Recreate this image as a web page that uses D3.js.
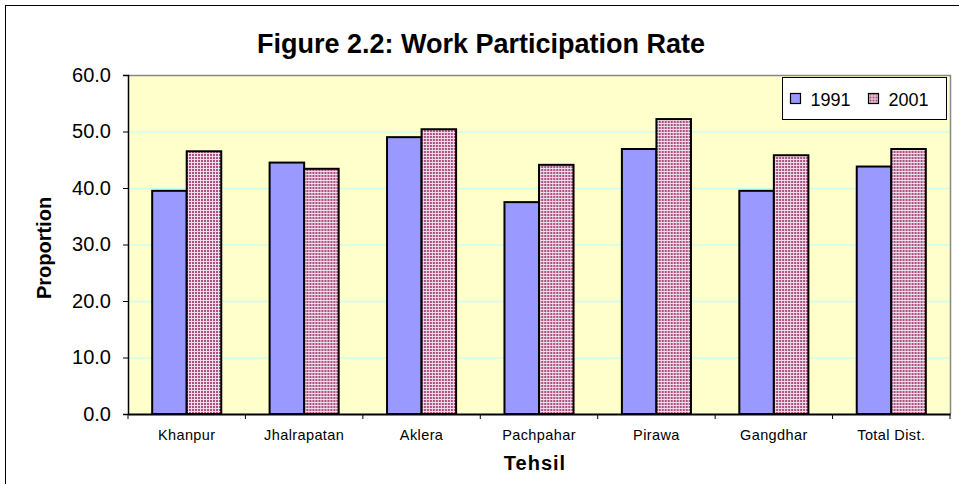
<!DOCTYPE html>
<html>
<head>
<meta charset="utf-8">
<script src="https://cdn.jsdelivr.net/npm/d3@7"></script>
<style>
  body { margin: 0; background: #fff; }
  svg { display: block; font-family: Arial, "Liberation Sans", sans-serif; }
</style>
</head>
<body>
<svg width="959" height="484"></svg>
<script>
const tehsils = ["Khanpur", "Jhalrapatan", "Aklera", "Pachpahar", "Pirawa", "Gangdhar", "Total Dist."];
const years = ["1991", "2001"];
const wpr1991 = [39.5, 44.5, 49.0, 37.5, 46.9, 39.5, 43.8];
const wpr2001 = [46.5, 43.4, 50.4, 44.1, 52.2, 45.8, 46.9];
const yTicks = [0, 10, 20, 30, 40, 50, 60];

const margin = { top: 75, right: 9, bottom: 70, left: 128 };
const width = 959, height = 484;
const svg = d3.select("svg");

// pattern for the 2001 bars
const defs = svg.append("defs");
const pat = defs.append("pattern")
  .attr("id", "grid2001")
  .attr("patternUnits", "userSpaceOnUse")
  .attr("width", 3).attr("height", 3);
pat.append("rect").attr("width", 3).attr("height", 3).attr("fill", "#a8507e");
pat.append("rect").attr("width", 3).attr("height", 1).attr("fill", "#f2dcea");
pat.append("rect").attr("width", 1).attr("height", 3).attr("fill", "#f2dcea");

// outer frame
svg.append("rect")
  .attr("x", 5.5).attr("y", 5.5)
  .attr("width", width + 10).attr("height", height + 10)
  .attr("fill", "none").attr("stroke", "#000");

// scales
const x0 = d3.scaleBand()
  .domain(tehsils)
  .range([margin.left, width - margin.right])
  .padding(0);
const x1 = d3.scaleBand()
  .domain(years)
  .range([0, x0.bandwidth()])
  .paddingInner(0)
  .paddingOuter(0.7);
const y = d3.scaleLinear()
  .domain([0, 60])
  .range([height - margin.bottom, margin.top]);

const plotL = margin.left, plotR = width - margin.right;
const plotT = margin.top, plotB = height - margin.bottom;

// plot background
svg.append("rect")
  .attr("x", plotL).attr("y", plotT)
  .attr("width", plotR - plotL).attr("height", plotB - plotT)
  .attr("fill", "#ffffcc");

// gridlines
svg.append("g")
  .selectAll("line")
  .data(yTicks.filter(d => d > 0 && d < 60))
  .join("line")
  .attr("x1", plotL).attr("x2", plotR)
  .attr("y1", d => y(d) + 0.5).attr("y2", d => y(d) + 0.5)
  .attr("stroke", "#ccffee").attr("stroke-width", 1.5);

// plot border top/right
svg.append("path")
  .attr("d", `M${plotL},${plotT + 0.5}H${plotR + 0.5}V${plotB}`)
  .attr("fill", "none").attr("stroke", "#888").attr("stroke-width", 1.5);

// bars
const rows = tehsils.map((t, i) => ({ t, vals: [{ k: "1991", v: wpr1991[i] }, { k: "2001", v: wpr2001[i] }] }));
svg.append("g")
  .selectAll("g")
  .data(rows)
  .join("g")
  .attr("transform", d => `translate(${x0(d.t)},0)`)
  .selectAll("rect")
  .data(d => d.vals)
  .join("rect")
  .attr("x", d => x1(d.k))
  .attr("y", d => y(d.v))
  .attr("width", x1.bandwidth())
  .attr("height", d => y(0) - y(d.v))
  .attr("fill", d => d.k === "1991" ? "#9999ff" : "url(#grid2001)")
  .attr("stroke", "#000")
  .attr("stroke-width", 2);

// y axis
const yAxis = d3.axisLeft(y)
  .tickValues(yTicks)
  .tickFormat(d3.format(".1f"))
  .tickSize(5)
  .tickPadding(12);
const gy = svg.append("g")
  .attr("transform", `translate(${plotL},0)`)
  .call(yAxis);
gy.select(".domain").attr("stroke", "#000").attr("stroke-width", 1.5);
gy.selectAll("text").attr("font-size", 20).attr("fill", "#000");

// x axis: labels centered, ticks on category boundaries
const xAxis = d3.axisBottom(x0).tickSize(0).tickPadding(16);
const gx = svg.append("g")
  .attr("transform", `translate(0,${plotB})`)
  .call(xAxis);
gx.select(".domain").attr("stroke", "#000").attr("stroke-width", 2);
gx.selectAll("text").attr("font-size", 14.5).attr("fill", "#000").attr("letter-spacing", 0.4);
gx.selectAll(".boundary")
  .data(tehsils.map(t => x0(t)).concat([plotR]))
  .join("line")
  .attr("class", "boundary")
  .attr("x1", d => d).attr("x2", d => d)
  .attr("y1", 0).attr("y2", 5)
  .attr("stroke", "#000");

// axis titles
svg.append("text")
  .attr("x", (plotL + plotR) / 2 - 4).attr("y", 470)
  .attr("text-anchor", "middle")
  .attr("font-size", 20).attr("font-weight", "bold")
  .attr("letter-spacing", 1)
  .text("Tehsil");
svg.append("text")
  .attr("transform", `translate(51,248) rotate(-90)`)
  .attr("text-anchor", "middle")
  .attr("font-size", 20).attr("font-weight", "bold")
  .text("Proportion");

// title
svg.append("text")
  .attr("x", 481).attr("y", 53)
  .attr("text-anchor", "middle")
  .attr("font-size", 27).attr("font-weight", "bold")
  .text("Figure 2.2: Work Participation Rate");

// legend
const legend = svg.append("g").attr("transform", "translate(782.5,77.5)");
legend.append("rect")
  .attr("width", 164).attr("height", 42)
  .attr("fill", "#fff").attr("stroke", "#000");
const li = legend.selectAll("g.item")
  .data(years)
  .join("g")
  .attr("class", "item")
  .attr("transform", (d, i) => `translate(${8 + i * 78},0)`);
li.append("rect")
  .attr("y", 16).attr("width", 10).attr("height", 10)
  .attr("fill", d => d === "1991" ? "#9999ff" : "url(#grid2001)")
  .attr("stroke", "#000").attr("stroke-width", 1.2);
li.append("text")
  .attr("x", 20).attr("y", 28)
  .attr("font-size", 18)
  .text(d => d);
</script>
</body>
</html>
